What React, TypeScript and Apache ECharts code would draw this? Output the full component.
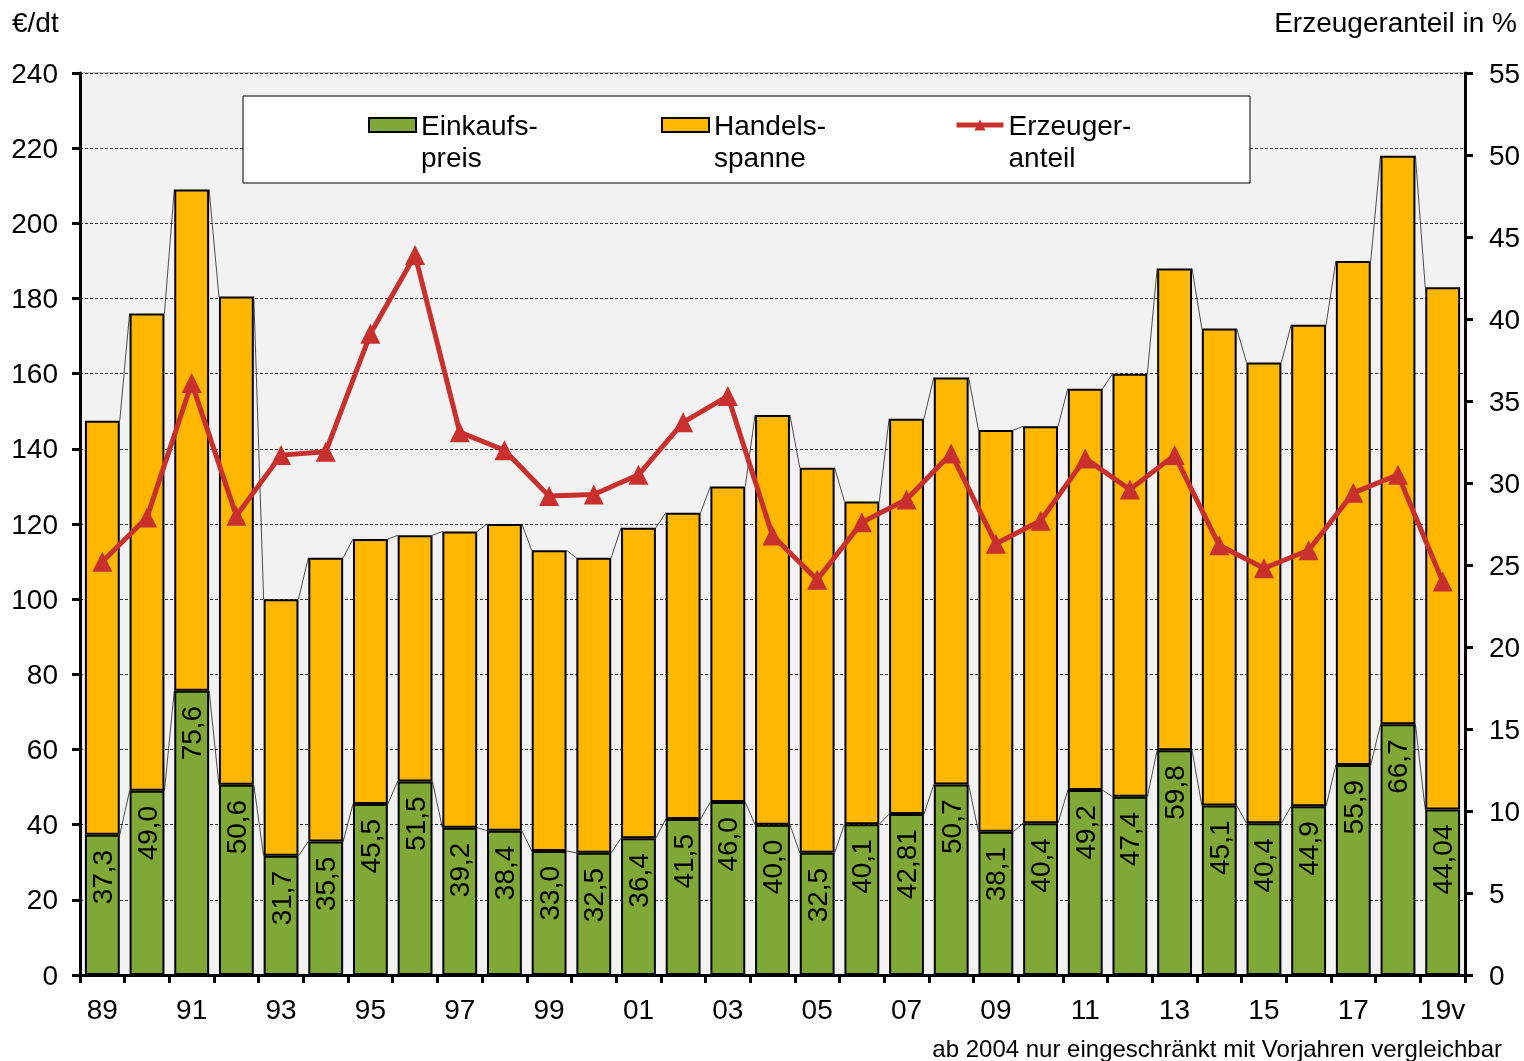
import React, { useEffect, useRef } from "react";
import * as echarts from "echarts";

const years = ["89","90","91","92","93","94","95","96","97","98","99","00","01","02","03","04","05","06","07","08","09","10","11","12","13","14","15","16","17","18","19v"];
const einkaufspreis = [37.3,49.0,75.6,50.6,31.7,35.5,45.5,51.5,39.2,38.4,33.0,32.5,36.4,41.5,46.0,40.0,32.5,40.1,42.81,50.7,38.1,40.4,49.2,47.4,59.8,45.1,40.4,44.9,55.9,66.7,44.04];
const handelsspanne = [110.2,127.0,133.4,129.9,68.3,75.5,70.5,65.5,78.8,81.6,80.0,78.5,82.6,81.5,84.0,109.0,102.5,85.9,105.19,108.3,106.9,105.6,106.8,112.6,128.2,126.9,122.6,128.1,134.1,151.3,138.96];
const erzeugeranteil = [25.2,27.9,36.1,28.0,31.7,31.9,39.1,43.9,33.1,32.0,29.2,29.3,30.5,33.7,35.3,26.8,24.1,27.6,29.0,31.8,26.3,27.7,31.5,29.6,31.7,26.2,24.8,25.9,29.4,30.5,24.0];
const leftTicks = { min: 0, max: 240, interval: 20 };
const rightTicks = { min: 0, max: 55, interval: 5 };

const FONT = "'Liberation Sans', Arial, sans-serif";
const FS = 28;
const GREEN = "#7FA837";
const ORANGE = "#FFB700";
const RED = "#C8302E";
const BAR_FRAC = 0.78;

function fmt(v: number): string {
  const oneDec = Math.abs(v * 10 - Math.round(v * 10)) < 1e-6;
  return (oneDec ? v.toFixed(1) : v.toFixed(2)).replace(".", ",");
}

export default function App() {
  const ref = useRef<HTMLDivElement>(null);
  useEffect(() => {
    if (!ref.current) return;
    const chart = echarts.init(ref.current, null, { renderer: "svg" });
    const connectorData = years.slice(0, -1).map((_, i) => [
      i,
      einkaufspreis[i],
      einkaufspreis[i] + handelsspanne[i],
      einkaufspreis[i + 1],
      einkaufspreis[i + 1] + handelsspanne[i + 1],
    ]);
    const legendNames: Record<string, string> = {
      Einkaufspreis: "\nEinkaufs-\npreis",
      Handelsspanne: "\nHandels-\nspanne",
      Erzeugeranteil: "\nErzeuger-\nanteil",
    };
    chart.setOption({
      animation: false,
      textStyle: { fontFamily: FONT, color: "#000" },
      grid: {
        left: 80, right: 59, top: 73, bottom: 86,
        show: true, backgroundColor: "#F2F2F2", borderColor: "#8C8C8C", borderWidth: 1,
      },
      graphic: [
        { type: "rect", z: 3, shape: { x: 243, y: 96, width: 1007, height: 87 }, style: { fill: "#fff", stroke: "#000", lineWidth: 1 } },
        { type: "text", x: 12, y: 22, style: { text: "€/dt", font: `${FS}px ${FONT}`, fill: "#000", verticalAlign: "middle", align: "left" } },
        { type: "text", x: 1517, y: 22, style: { text: "Erzeugeranteil in %", font: `${FS}px ${FONT}`, fill: "#000", verticalAlign: "middle", align: "right" } },
        { type: "text", x: 1502, y: 1048, style: { text: "ab 2004 nur eingeschränkt mit Vorjahren vergleichbar", font: `24px ${FONT}`, fill: "#000", verticalAlign: "middle", align: "right" } },
      ],
      legend: {
        data: [
          { name: "Einkaufspreis", icon: "rect" },
          { name: "Handelsspanne", icon: "rect" },
          { name: "Erzeugeranteil", lineStyle: { width: 5, color: RED } },
        ],
        left: 368, top: 77, padding: 0,
        itemWidth: 47, itemHeight: 14, itemGap: 44,
        formatter: (n: string) => legendNames[n] || n,
        textStyle: { fontSize: FS, lineHeight: 32, width: 196, color: "#000", fontFamily: FONT },
        z: 5,
      },
      xAxis: {
        type: "category",
        data: years,
        axisLine: { lineStyle: { color: "#000", width: 3 } },
        axisTick: { show: true, interval: 0, length: 8, lineStyle: { color: "#000", width: 3 } },
        axisLabel: { interval: 1, fontSize: FS, color: "#000", margin: 20 },
      },
      yAxis: [
        {
          type: "value", ...leftTicks, position: "left",
          axisLine: { show: true, lineStyle: { color: "#000", width: 3 } },
          axisTick: { show: true, length: 8, lineStyle: { color: "#000", width: 3 } },
          axisLabel: { fontSize: FS, color: "#000", margin: 22 },
          splitLine: { show: true, lineStyle: { color: "#333", width: 1, type: [3, 2] } },
        },
        {
          type: "value", ...rightTicks, position: "right",
          axisLine: { show: true, lineStyle: { color: "#000", width: 3 } },
          axisTick: { show: true, length: 8, lineStyle: { color: "#000", width: 3 } },
          axisLabel: { fontSize: FS, color: "#000", margin: 24 },
          splitLine: { show: false },
        },
      ],
      series: [
        {
          name: "Verbinder",
          type: "custom",
          yAxisIndex: 0,
          z: 1,
          silent: true,
          data: connectorData,
          encode: { x: 0, y: [1, 2, 3, 4] },
          renderItem: (params: any, api: any) => {
            const i = api.value(0);
            const hw = (api.size([1, 0])[0] * BAR_FRAC) / 2;
            const a1 = api.coord([i, api.value(1)]);
            const a2 = api.coord([i + 1, api.value(3)]);
            const b1 = api.coord([i, api.value(2)]);
            const b2 = api.coord([i + 1, api.value(4)]);
            const st = { stroke: "#222", lineWidth: 0.8, fill: null };
            return {
              type: "group",
              children: [
                { type: "line", shape: { x1: a1[0] + hw, y1: a1[1], x2: a2[0] - hw, y2: a2[1] }, style: st },
                { type: "line", shape: { x1: b1[0] + hw, y1: b1[1], x2: b2[0] - hw, y2: b2[1] }, style: st },
              ],
            };
          },
        },
        {
          name: "Einkaufspreis",
          type: "bar",
          stack: "a",
          barWidth: `${BAR_FRAC * 100}%`,
          data: einkaufspreis,
          itemStyle: { color: GREEN, borderColor: "#000", borderWidth: 2 },
          label: {
            show: true,
            position: "insideTop",
            rotate: 90,
            align: "right",
            verticalAlign: "middle",
            distance: 15,
            fontSize: FS,
            color: "#000",
            fontFamily: FONT,
            formatter: (p: any) => fmt(p.value),
          },
          z: 2,
        },
        {
          name: "Handelsspanne",
          type: "bar",
          stack: "a",
          barWidth: `${BAR_FRAC * 100}%`,
          data: handelsspanne,
          itemStyle: { color: ORANGE, borderColor: "#000", borderWidth: 2 },
          z: 2,
        },
        {
          name: "Erzeugeranteil",
          type: "line",
          yAxisIndex: 1,
          data: erzeugeranteil,
          symbol: "triangle",
          symbolSize: 20,
          lineStyle: { color: RED, width: 5 },
          itemStyle: { color: RED },
          z: 6,
        },
      ],
    });
    return () => chart.dispose();
  }, []);
  return <div ref={ref} style={{ position: "fixed", left: 0, top: 0, width: 1524, height: 1061 }} />;
}
